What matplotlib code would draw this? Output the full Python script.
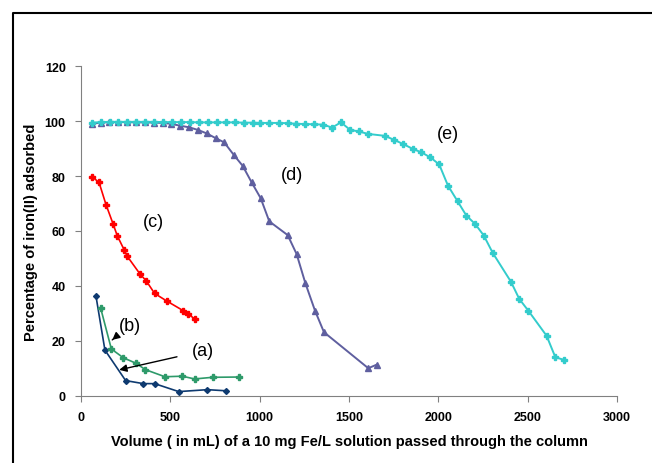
#breakthrough curves: iron(II) adsorption vs volume passed through the column
import numpy as np
import matplotlib.pyplot as plt
from matplotlib.lines import Line2D

plt.rcParams['font.family'] = ['Liberation Sans', 'DejaVu Sans']

# (a)
vol_a = [84, 134, 250, 349, 412, 547, 707, 811]
pct_a = [36.3, 16.7, 5.6, 4.5, 4.5, 1.6, 2.3, 1.9]
# (b)
vol_b = [110, 170, 237, 308, 360, 470, 567, 636, 737, 886]
pct_b = [32.0, 17.1, 13.9, 11.9, 9.6, 7.0, 7.2, 6.2, 6.8, 6.9]
# (c)
vol_c = [60, 101, 140, 179, 203, 242, 259, 330, 366, 412, 481, 573, 599, 638]
pct_c = [79.8, 77.7, 69.6, 62.7, 58.3, 53.1, 50.8, 44.4, 41.8, 37.3, 34.5, 31.0, 29.8, 28.0]
# (d)
vol_d = [60, 110, 159, 210, 255, 308, 358, 409, 457, 502, 554, 606, 657, 703,
         756, 802, 856, 905, 955, 1006, 1054, 1157, 1207, 1256, 1310, 1360, 1608, 1655]
pct_d = [99.0, 99.4, 99.6, 99.6, 99.6, 99.5, 99.5, 99.4, 99.3, 99.0, 98.3, 97.7, 96.7, 95.5,
         93.7, 92.2, 87.6, 83.7, 77.7, 71.9, 63.5, 58.5, 51.6, 41.0, 31.0, 23.2, 10.1, 11.4]
# (e)
vol_e = [60, 110, 160, 210, 260, 310, 360, 410, 460, 510, 560, 610, 660, 710, 760, 810,
         860, 910, 960, 1002, 1054, 1106, 1157, 1203, 1254, 1304, 1356, 1405, 1455, 1506,
         1554, 1608, 1701, 1754, 1804, 1856, 1905, 1955, 2005, 2054, 2108, 2157, 2207, 2255,
         2304, 2407, 2453, 2504, 2606, 2655, 2705]
pct_e = [99.4, 99.6, 99.7, 99.7, 99.7, 99.7, 99.7, 99.7, 99.6, 99.6, 99.6, 99.6, 99.5, 99.5,
         99.5, 99.5, 99.5, 99.4, 99.4, 99.3, 99.3, 99.3, 99.2, 99.0, 98.9, 98.8, 98.7, 97.6,
         99.5, 96.8, 96.2, 95.3, 94.6, 93.1, 91.6, 89.9, 88.6, 86.8, 84.2, 76.5, 70.8, 65.6,
         62.5, 58.3, 52.1, 41.5, 35.3, 31.0, 21.9, 14.1, 13.1]

fig = plt.figure(figsize=(6.52, 4.64), dpi=100)
ax = fig.add_axes([0.1242, 0.1444, 0.8221, 0.7112])

ax.plot(vol_a, pct_a, color='#0E3A70', marker='D', ms=3, lw=1.2)
ax.plot(vol_b, pct_b, color='#2E9A6A', marker='P', ms=4, lw=1.2)
ax.plot(vol_c, pct_c, color='#FF0000', marker='P', ms=4, lw=1.2)
ax.plot(vol_d, pct_d, color='#5F5F9F', marker='^', ms=4.5, lw=1.4)
ax.plot(vol_e, pct_e, color='#33CCCC', marker='P', ms=4, lw=1.4)

ax.annotate('(a)', xy=(214, 9.5), xytext=(683, 16.4), fontsize=13, ha='center', va='center',
            arrowprops=dict(arrowstyle='-|>', color='black', lw=1, shrinkA=9, shrinkB=0,
                            mutation_scale=11))
ax.annotate('(b)', xy=(175, 20.4), xytext=(274, 25.8), fontsize=13, ha='center', va='center',
            arrowprops=dict(arrowstyle='-|>', color='black', lw=1, shrinkA=4, shrinkB=0,
                            mutation_scale=11))
ax.text(403, 63.3, '(c)', fontsize=13, ha='center', va='center')
ax.text(1181, 80.4, '(d)', fontsize=13, ha='center', va='center')
ax.text(2054, 95.6, '(e)', fontsize=13, ha='center', va='center')

ax.set_xlim(0, 3000)
ax.set_ylim(0, 120)
ax.set_xticks(np.arange(0, 3001, 500))
ax.set_yticks(np.arange(0, 121, 20))
for s in ['top', 'right']:
    ax.spines[s].set_visible(False)
for s in ['left', 'bottom']:
    ax.spines[s].set_color('#808080')
ax.tick_params(direction='out', length=4, color='#808080', labelsize=9, pad=7)
for lab in ax.get_xticklabels() + ax.get_yticklabels():
    lab.set_fontweight('bold')

ax.set_xlabel('Volume ( in mL) of a 10 mg Fe/L solution passed through the column',
              fontsize=10.5, fontweight='bold', labelpad=8)
ax.set_ylabel('Percentage of iron(II) adsorbed', fontsize=10.5, fontweight='bold', labelpad=5)

# outer frame (only top and left edges visible in the picture)
fig.add_artist(Line2D([0.02, 0.02, 1.0], [0.0, 0.97, 0.97], transform=fig.transFigure,
                      color='black', lw=1.5))

fig.savefig('out.png', dpi=100)
